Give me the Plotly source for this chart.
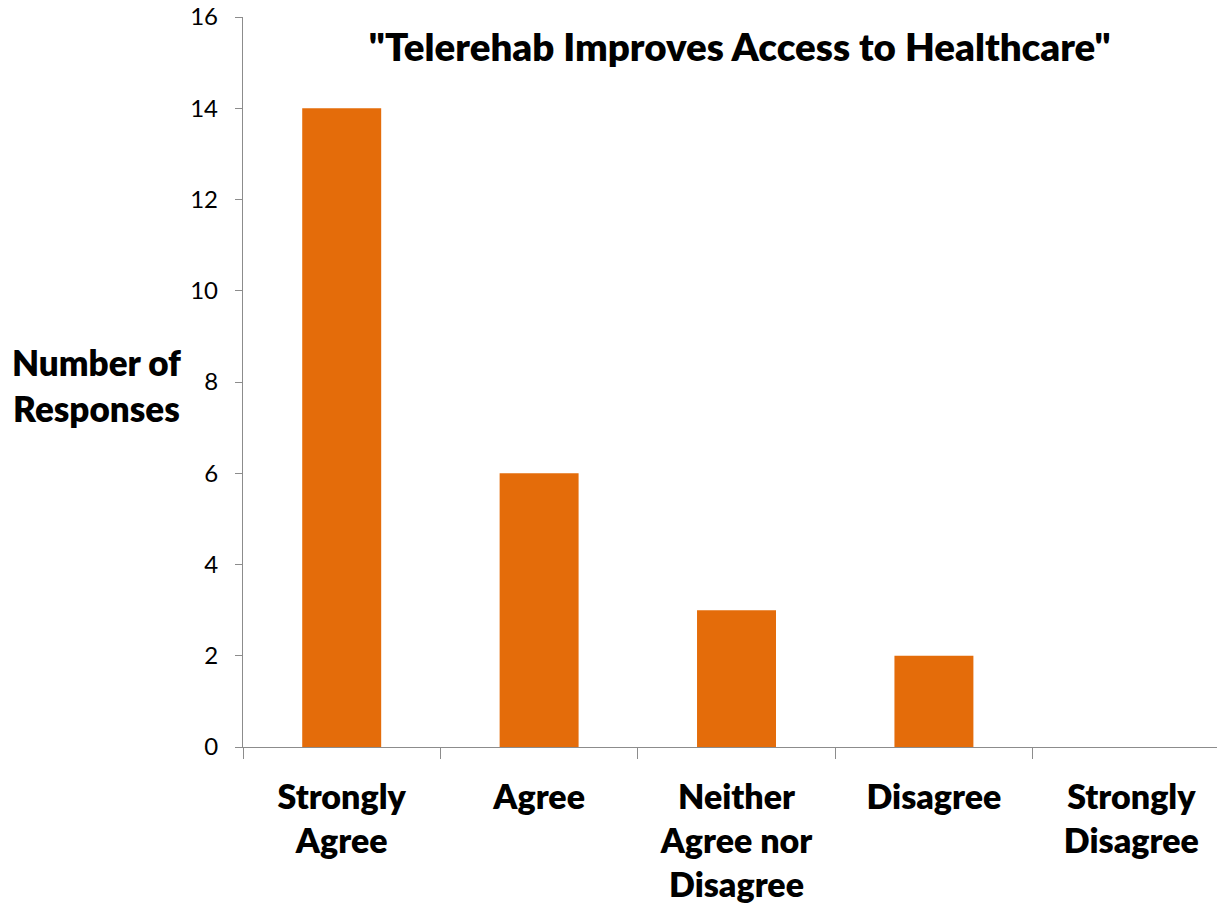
import plotly.graph_objects as go

categories = ["Strongly<br>Agree", "Agree", "Neither<br>Agree nor<br>Disagree", "Disagree", "Strongly<br>Disagree"]
responses = [14, 6, 3, 2, 0]
y_ticks = [0, 2, 4, 6, 8, 10, 12, 14, 16]

FONT = "Lato"
AXIS_GREY = "#8c8c8c"

fig = go.Figure(
    go.Bar(
        x=categories,
        y=responses,
        marker=dict(color="#E46C0A", line=dict(width=0)),
        width=0.4,
    )
)

fig.update_layout(
    width=1222,
    height=906,
    margin=dict(l=243, r=5, t=17, b=159),
    paper_bgcolor="white",
    plot_bgcolor="white",
    showlegend=False,
    font=dict(family=FONT, color="black"),
    title=dict(
        text="\"Telerehab Improves Access to Healthcare\"",
        font=dict(family=FONT, size=38.5, color="black", weight=800),
        x=0.51, xanchor="center", xref="paper",
        y=0.948, yanchor="middle", yref="container",
    ),
)

fig.update_xaxes(
    type="category",
    range=[-0.5, 4.434],
    automargin=False,
    showline=True, linecolor=AXIS_GREY, linewidth=1.3,
    ticks="outside", ticklen=11, tickcolor=AXIS_GREY, tickwidth=1.3,
    tickson="boundaries",
    tickfont=dict(family=FONT, size=34, color="black", weight=800),
    ticklabelstandoff=20,
    showgrid=False, zeroline=False,
)

fig.update_yaxes(
    range=[0, 16],
    tickvals=y_ticks,
    automargin=False,
    showline=True, linecolor=AXIS_GREY, linewidth=1.3,
    ticks="outside", ticklen=7, tickcolor=AXIS_GREY, tickwidth=1.3,
    tickfont=dict(family=FONT, size=24, color="black"),
    ticklabelstandoff=12,
    showgrid=False, zeroline=False,
)

fig.add_annotation(
    text="Number of<br>Responses",
    xref="paper", yref="paper",
    x=-0.1508, y=0.496,
    xanchor="center", yanchor="middle",
    showarrow=False,
    font=dict(family=FONT, size=35, color="black", weight=800),
    align="center",
)

fig.write_html("out.html")
